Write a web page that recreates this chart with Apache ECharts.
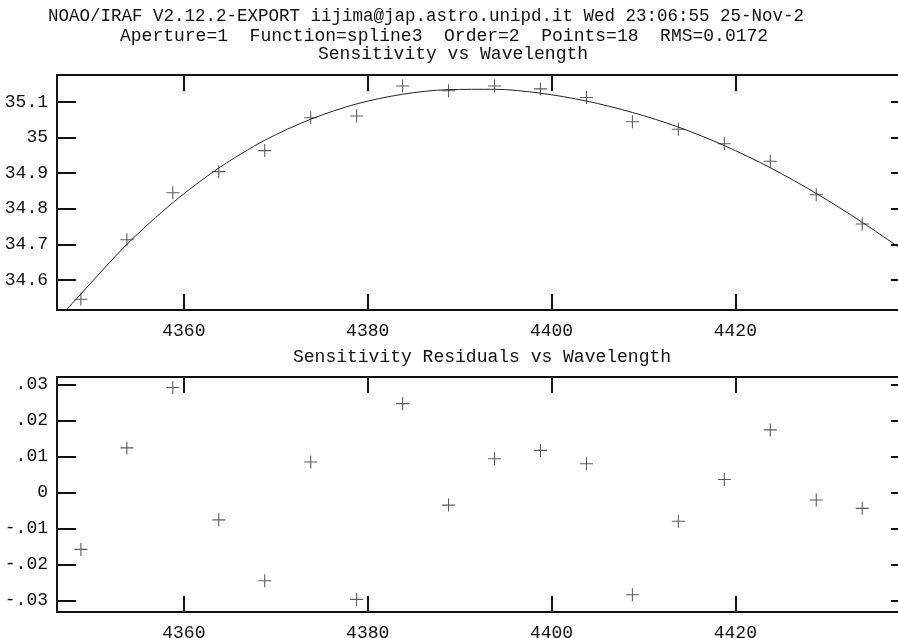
<!DOCTYPE html>
<html>
<head>
<meta charset="utf-8">
<script src="https://cdn.jsdelivr.net/npm/echarts@6/dist/echarts.min.js"></script>
<style>
  html, body { margin: 0; padding: 0; background: #fff; }
  #chart { width: 898px; height: 638px; }
</style>
</head>
<body>
<div id="chart"></div>
<script>
// measured points (wavelength, sensitivity, residual)
const wavelength = [4348.8, 4353.8, 4358.8, 4363.8, 4368.8, 4373.8, 4378.8, 4383.8, 4388.8,
                    4393.8, 4398.8, 4403.8, 4408.8, 4413.8, 4418.8, 4423.8, 4428.8, 4433.8];
const sensitivity = [34.546, 34.713, 34.845, 34.904, 34.963, 35.055, 35.060, 35.144, 35.131,
                     35.144, 35.136, 35.112, 35.044, 35.023, 34.982, 34.933, 34.839, 34.757];
const residuals = [-0.0158, 0.0124, 0.0292, -0.0076, -0.0245, 0.0085, -0.0297, 0.0247, -0.0035,
                   0.0094, 0.0117, 0.0080, -0.0284, -0.0080, 0.0036, 0.0174, -0.0021, -0.0044];

// fitted curve
const fitWave = [4347.2, 4348.8, 4353.8, 4358.8, 4363.8, 4368.8, 4373.8, 4378.8, 4383.8, 4388.8,
                 4393.8, 4398.8, 4403.8, 4408.8, 4413.8, 4418.8, 4423.8, 4428.8, 4433.8, 4438.9];
const fitSens = [34.516, 34.561, 34.700, 34.817, 34.914, 34.992, 35.051, 35.094, 35.121, 35.134,
                 35.135, 35.124, 35.102, 35.070, 35.029, 34.977, 34.915, 34.843, 34.762, 34.672];

const xTicks = [4360, 4380, 4400, 4420];
const sensTicks = [34.6, 34.7, 34.8, 34.9, 35, 35.1];
const residTicks = [-0.03, -0.02, -0.01, 0, 0.01, 0.02, 0.03];

const headerLines = [
    'NOAO/IRAF V2.12.2-EXPORT iijima@jap.astro.unipd.it Wed 23:06:55 25-Nov-2',
    'Aperture=1  Function=spline3  Order=2  Points=18  RMS=0.0172',
    'Sensitivity vs Wavelength'
];
const residTitle = 'Sensitivity Residuals vs Wavelength';

const FONT = 'Liberation Mono';
const INK = '#111';
const plusSymbol = 'path://M0,5.5H12V6.5H0Z M5.5,0H6.5V12H5.5Z';

function pair(xs, ys) {
    return xs.map((x, i) => [x, ys[i]]);
}

function fmtResid(v) {
    const r = Math.round(v * 100) / 100;
    if (r === 0) return '0';
    return (r < 0 ? '-' : '') + String(Math.abs(r)).replace(/^0\./, '.');
}

function xAxisPair(gridIndex) {
    const tick = { show: true, inside: true, length: 16, customValues: xTicks, lineStyle: { color: INK, width: 2 } };
    return [
        {
            type: 'value', gridIndex: gridIndex, position: 'bottom',
            min: 4346.2, max: 4439.0,
            axisLine: { show: false, onZero: false }, splitLine: { show: false },
            axisTick: tick,
            axisLabel: { customValues: xTicks, margin: 12, color: INK, fontFamily: FONT, fontSize: 18, formatter: v => String(v) }
        },
        {
            type: 'value', gridIndex: gridIndex, position: 'top',
            min: 4346.2, max: 4439.0,
            axisLine: { show: false, onZero: false }, splitLine: { show: false },
            axisTick: tick, axisLabel: { show: false }
        }
    ];
}

function yAxisPair(gridIndex, min, max, ticks, formatter) {
    const tick = { show: true, inside: true, length: 19, customValues: ticks, lineStyle: { color: INK, width: 2 } };
    return [
        {
            type: 'value', gridIndex: gridIndex, position: 'left',
            min: min, max: max,
            axisLine: { show: false, onZero: false }, splitLine: { show: false },
            axisTick: tick,
            axisLabel: { customValues: ticks, margin: 9, color: INK, fontFamily: FONT, fontSize: 18, formatter: formatter }
        },
        {
            type: 'value', gridIndex: gridIndex, position: 'right',
            min: min, max: max,
            axisLine: { show: false, onZero: false }, splitLine: { show: false },
            axisTick: tick, axisLabel: { show: false }
        }
    ];
}

const chart = echarts.init(document.getElementById('chart'), null, { renderer: 'canvas' });

const option = {
    backgroundColor: '#fff',
    animation: false,
    title: [
        { text: headerLines[0], left: 48, top: 7, padding: 0, textStyle: { fontFamily: FONT, fontSize: 17.5, fontWeight: 'normal', color: INK } },
        { text: headerLines[1], left: 120, top: 27, padding: 0, textStyle: { fontFamily: FONT, fontSize: 18, fontWeight: 'normal', color: INK } },
        { text: headerLines[2], left: 318, top: 45, padding: 0, textStyle: { fontFamily: FONT, fontSize: 18, fontWeight: 'normal', color: INK } },
        { text: residTitle, left: 293, top: 348, padding: 0, textStyle: { fontFamily: FONT, fontSize: 18, fontWeight: 'normal', color: INK } }
    ],
    grid: [
        { left: 57, width: 853, top: 75, height: 235, outerBoundsMode: 'none', containLabel: false,
          show: true, borderColor: INK, borderWidth: 2, backgroundColor: 'transparent' },
        { left: 57, width: 853, top: 377, height: 235, outerBoundsMode: 'none', containLabel: false,
          show: true, borderColor: INK, borderWidth: 2, backgroundColor: 'transparent' }
    ],
    xAxis: xAxisPair(0).concat(xAxisPair(1)),
    yAxis: yAxisPair(0, 34.516, 35.175, sensTicks, v => String(Math.round(v * 10) / 10))
        .concat(yAxisPair(1, -0.0332, 0.0321, residTicks, fmtResid)),
    series: [
        {
            name: 'fit', type: 'line', xAxisIndex: 0, yAxisIndex: 0,
            data: pair(fitWave, fitSens),
            showSymbol: false, smooth: 0.3,
            lineStyle: { color: '#222', width: 1 }
        },
        {
            name: 'sensitivity', type: 'scatter', xAxisIndex: 0, yAxisIndex: 0,
            data: pair(wavelength, sensitivity),
            symbol: plusSymbol, symbolSize: 13,
            itemStyle: { color: '#333' }
        },
        {
            name: 'residuals', type: 'scatter', xAxisIndex: 2, yAxisIndex: 2,
            data: pair(wavelength, residuals),
            symbol: plusSymbol, symbolSize: 13,
            itemStyle: { color: '#333' }
        }
    ]
};

chart.setOption(option);
</script>
</body>
</html>
